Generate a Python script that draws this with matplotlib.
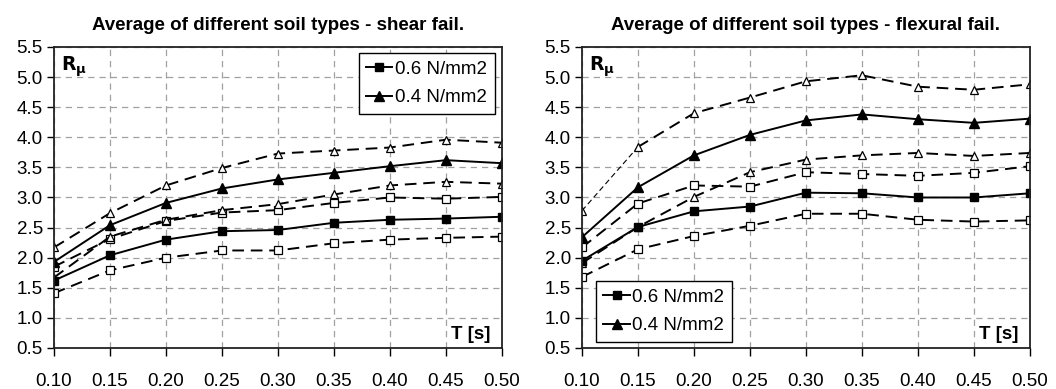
import matplotlib
matplotlib.use('Agg')
import matplotlib.pyplot as plt
import matplotlib.ticker as mticker
from matplotlib.lines import Line2D

plt.rcParams['font.family'] = ['Liberation Sans', 'DejaVu Sans']

T = [0.10, 0.15, 0.20, 0.25, 0.30, 0.35, 0.40, 0.45, 0.50]

# ── shear failure ──
shear_tri_hi = [2.17, 2.74, 3.20, 3.49, 3.73, 3.78, 3.83, 3.96, 3.91]
shear_tri_avg = [1.93, 2.54, 2.91, 3.15, 3.30, 3.41, 3.52, 3.62, 3.57]
shear_tri_lo = [1.67, 2.35, 2.63, 2.79, 2.89, 3.05, 3.20, 3.26, 3.23]
shear_sq_hi = [1.85, 2.31, 2.61, 2.75, 2.79, 2.91, 3.00, 2.98, 3.01]
shear_sq_avg = [1.62, 2.04, 2.30, 2.44, 2.46, 2.58, 2.63, 2.65, 2.68]
shear_sq_lo = [1.41, 1.79, 2.00, 2.12, 2.12, 2.24, 2.30, 2.33, 2.35]

# ── flexural failure ──
flex_tri_hi = [2.78, 3.84, 4.40, 4.66, 4.93, 5.03, 4.84, 4.79, 4.88]
flex_tri_avg = [2.34, 3.17, 3.70, 4.04, 4.28, 4.38, 4.30, 4.24, 4.31]
flex_tri_lo = [1.91, 2.51, 3.01, 3.42, 3.63, 3.70, 3.74, 3.69, 3.74]
flex_sq_hi = [2.17, 2.90, 3.20, 3.18, 3.42, 3.39, 3.36, 3.41, 3.52]
flex_sq_avg = [1.95, 2.51, 2.77, 2.85, 3.08, 3.07, 3.00, 3.00, 3.07]
flex_sq_lo = [1.68, 2.14, 2.36, 2.53, 2.73, 2.73, 2.63, 2.60, 2.62]

titles = ['Average of different soil types - shear fail.',
          'Average of different soil types - flexural fail.']
legend_labels = ['0.6 N/mm2', '0.4 N/mm2']

DASH = (0, (6, 3.5))
LW = 1.4
MS = 6
FS = 13.5


def draw_panel(ax, tri_hi, tri_avg, tri_lo, sq_hi, sq_avg, sq_lo, thin_first=False):
    for ys, mk in [(sq_lo, 's'), (sq_hi, 's'), (tri_lo, '^'), (tri_hi, '^')]:
        if thin_first and ys is tri_hi:
            # first segment drawn thin, as in the original
            ax.plot(T[:2], ys[:2], color='black', lw=0.8, ls=(0, (5, 3)))
            ax.plot(T[1:], ys[1:], color='black', lw=LW, ls=DASH)
            ax.plot(T, ys, ls='none', marker=mk, ms=MS, mfc='white', mec='black', mew=0.9)
        else:
            ax.plot(T, ys, color='black', lw=LW, ls=DASH, marker=mk, ms=MS,
                    mfc='white', mec='black', mew=0.9)
    ax.plot(T, sq_avg, color='black', lw=LW, marker='s', ms=MS)
    ax.plot(T, tri_avg, color='black', lw=LW, marker='^', ms=MS + 0.5)

    ax.set_xlim(0.10, 0.50)
    ax.set_ylim(0.5, 5.5)
    ax.xaxis.set_major_locator(mticker.MultipleLocator(0.05))
    ax.yaxis.set_major_locator(mticker.MultipleLocator(0.5))
    ax.xaxis.set_major_formatter(mticker.FormatStrFormatter('%.2f'))
    ax.yaxis.set_major_formatter(mticker.FormatStrFormatter('%.1f'))
    ax.grid(True, color='#a0a0a0', ls=(0, (5, 4)), lw=0.9)
    ax.tick_params(axis='x', direction='out', length=6, width=1.0, pad=12, labelsize=FS)
    ax.tick_params(axis='y', direction='out', length=5, width=1.0, pad=3, labelsize=FS)
    for s in ax.spines.values():
        s.set_linewidth(1.3)
        s.set_color('#222222')
    ax.text(0.015, 0.975, r'$\mathbf{R}_{\mathbf{\mu}}$', transform=ax.transAxes,
            ha='left', va='top', fontsize=FS)
    ax.text(0.975, 0.015, 'T [s]', transform=ax.transAxes,
            ha='right', va='bottom', fontsize=FS, fontweight='bold')


fig = plt.figure(figsize=(10.56, 3.89), dpi=100)
ax1 = fig.add_axes([0.0511, 0.1054, 0.4242, 0.7738])
ax2 = fig.add_axes([0.5511, 0.1054, 0.4242, 0.7738])

draw_panel(ax1, shear_tri_hi, shear_tri_avg, shear_tri_lo, shear_sq_hi, shear_sq_avg, shear_sq_lo)
draw_panel(ax2, flex_tri_hi, flex_tri_avg, flex_tri_lo, flex_sq_hi, flex_sq_avg, flex_sq_lo,
           thin_first=True)

handles = [Line2D([], [], color='black', lw=LW, marker='s', ms=MS),
           Line2D([], [], color='black', lw=LW, marker='^', ms=MS + 0.5)]
for ax, loc, anchor in [(ax1, 'upper right', (0.988, 0.985)), (ax2, 'lower left', (0.027, 0.015))]:
    leg = ax.legend(handles, legend_labels, loc=loc, bbox_to_anchor=anchor, fontsize=FS,
                    handlelength=1.4, handletextpad=0.15, borderpad=0.4, labelspacing=0.6,
                    borderaxespad=0.1, fancybox=False, framealpha=1, edgecolor='black')
    leg.get_frame().set_linewidth(1.0)

for ax, t in zip([ax1, ax2], titles):
    ax.set_title(t, fontsize=13.5, fontweight='bold', pad=12)

plt.savefig('out.png', dpi=100)
plt.close()
